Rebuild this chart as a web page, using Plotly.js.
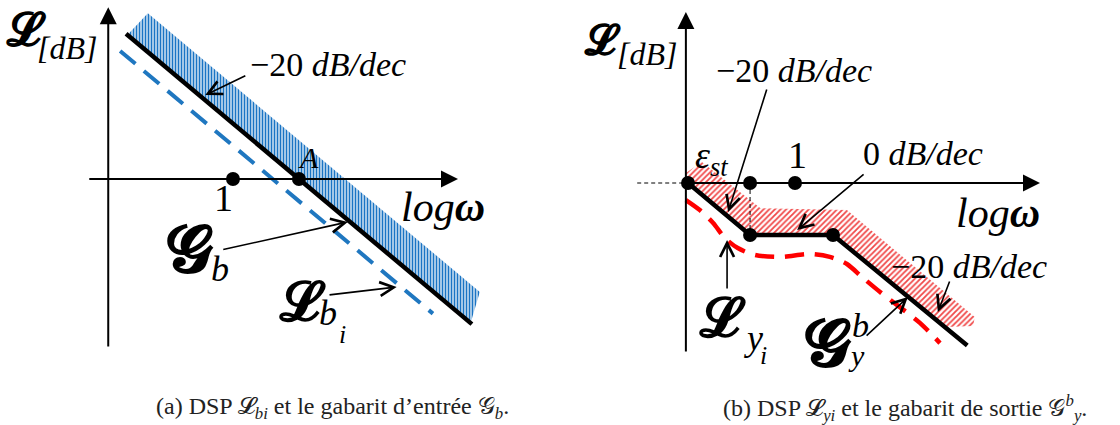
<!DOCTYPE html>
<html>
<head>
<meta charset="utf-8">
<script src="https://cdn.plot.ly/plotly-3.0.1.min.js"></script>
<style>
  body { margin: 0; background: #fff; }
  #fig { width: 1120px; height: 425px; }
</style>
</head>
<body>
<div id="fig"></div>
<script>
// x = log(omega) in decades (0 at omega = 1), y = L in dB

// (a) input template G_b and DSP L_bi
var aAxisH = [-2.2, 3.41];
var aAxisV = [-61, 62];
var aAxisAt = -1.89;
var aGabU = [-1.62, 3.62];
var aGabL = [52.4, -52.4];
var aDspU = [-1.71, 3.03];
var aDspL = [46.2, -48.6];
var aBandU = [-1.6, -1.29, 3.74, 3.6];
var aBandL = [52, 59.8, -40.8, -52];
var aPtU = [0, 1];
var aPtL = [0, 0];

// (b) output template G_y^b and DSP L_yi
var bAxisH = [-2.04, 4.58];
var bAxisV = [-76.6, 77];
var bAxisAt = -2.04;
var bStubU = [-2.95, -2.04];
var bGabU = [-2, -0.84, 0.71, 3.22];
var bGabL = [0, -23.4, -23.4, -73.2];
var bDspU = [-2.04, -1.78, -1.53, -1.31, -1.07, -0.75, -0.28, 0.28, 0.65, 0.97, 1.25, 1.59, 1.96, 2.34, 2.71];
var bDspL = [-7.7, -12.2, -18.0, -24.8, -29.3, -32.4, -33.3, -32.0, -33.3, -36.5, -42.3, -49.1, -55.9, -63.1, -72.1];
var bBandU = [-2.04, -1.74, -0.65, 0.97, 3.36, 3.33, 2.80, 0.71, -0.84, -2.0];
var bBandL = [4.5, 9.5, -11.3, -12.2, -60.4, -64.4, -64.9, -23.4, -23.4, 0];
var bAxisPtU = [-2, -0.84, 0];
var bKneeU = [-0.84, 0.71];
var bKneeL = [-23.4, -23.4];

var SERIF = 'Liberation Serif';

var data = [
  { x: aBandU, y: aBandL, xaxis: 'x', yaxis: 'y', type: 'scatter', mode: 'none',
    fill: 'toself', fillcolor: 'white',
    fillpattern: { shape: '|', fgcolor: '#1a74c4', bgcolor: 'white', size: 3, solidity: 0.6 } },
  { x: aDspU, y: aDspL, xaxis: 'x', yaxis: 'y', type: 'scatter', mode: 'lines',
    line: { color: '#1f77c0', width: 4, dash: '20px,11px' } },
  { x: aGabU, y: aGabL, xaxis: 'x', yaxis: 'y', type: 'scatter', mode: 'lines',
    line: { color: 'black', width: 4.5 } },
  { x: aPtU, y: aPtL, xaxis: 'x', yaxis: 'y', type: 'scatter', mode: 'markers',
    marker: { color: 'black', size: 14 } },

  { x: bBandU, y: bBandL, xaxis: 'x2', yaxis: 'y2', type: 'scatter', mode: 'none',
    fill: 'toself', fillcolor: 'white',
    fillpattern: { shape: '/', fgcolor: '#f04848', bgcolor: 'white', size: 4, solidity: 0.45 } },
  { x: bStubU, y: [0, 0], xaxis: 'x2', yaxis: 'y2', type: 'scatter', mode: 'lines',
    line: { color: 'black', width: 1, dash: '4px,3px' } },
  { x: [bKneeU[0], bKneeU[0]], y: [0, bKneeL[0]], xaxis: 'x2', yaxis: 'y2', type: 'scatter', mode: 'lines',
    line: { color: 'black', width: 1, dash: '4px,3px' } },
  { x: bDspU, y: bDspL, xaxis: 'x2', yaxis: 'y2', type: 'scatter', mode: 'lines',
    line: { color: '#ff0000', width: 4.5, dash: '19px,11px', shape: 'spline', smoothing: 0.8 } },
  { x: bGabU, y: bGabL, xaxis: 'x2', yaxis: 'y2', type: 'scatter', mode: 'lines',
    line: { color: 'black', width: 4.5 } },
  { x: bAxisPtU.concat(bKneeU), y: [0, 0, 0].concat(bKneeL), xaxis: 'x2', yaxis: 'y2',
    type: 'scatter', mode: 'markers', marker: { color: 'black', size: 14 } }
];

function axisArrow(xr, yr, x, y, ax, ay) {
  return { xref: xr, yref: yr, axref: xr, ayref: yr, x: x, y: y, ax: ax, ay: ay,
    text: '', showarrow: true, arrowhead: 2, arrowsize: 1.7, arrowwidth: 2, arrowcolor: 'black' };
}
function pointer(xr, yr, x, y, ax, ay) {
  return { xref: xr, yref: yr, axref: xr, ayref: yr, x: x, y: y, ax: ax, ay: ay,
    text: '', showarrow: true, arrowhead: 5, arrowsize: 1.7, arrowwidth: 1.6, arrowcolor: 'black' };
}
function label(xr, yr, x, y, text, size) {
  return { xref: xr, yref: yr, x: x, y: y, text: text, showarrow: false,
    xanchor: 'center', yanchor: 'middle',
    font: { family: SERIF, size: size, color: 'black' } };
}

var ann = [
  // (a)
  axisArrow('x', 'y', aAxisH[1], 0, aAxisH[0], 0),
  axisArrow('x', 'y', aAxisAt, aAxisV[1], aAxisAt, aAxisV[0]),
  label('x', 'y', -3.14, 53.8, '<b>𝓛</b>', 46),
  label('x', 'y', -2.52, 47.3, '<i>[dB]</i>', 32),
  label('x', 'y', 1.44, 41.5, '−20 <i>dB/dec</i>', 34),
  pointer('x', 'y', -0.42, 30.3, 0.21, 37.5),
  label('x', 'y', 1.14, 7.9, '<i>A</i>', 30),
  label('x', 'y', -0.15, -6.9, '1', 38),
  label('x', 'y', 3.18, -10.1, '<i>log</i><b><i>ω</i></b>', 42),
  label('x', 'y', -0.65, -25.6, '<b>𝓖</b>', 66),
  label('x', 'y', -0.2, -32.4, '<i>b</i>', 36),
  pointer('x', 'y', 1.74, -15.5, -0.17, -25.6),
  label('x', 'y', 1.06, -44.4, '<b>𝓛</b>', 54),
  label('x', 'y', 1.44, -48.4, '<i>b</i>', 36),
  label('x', 'y', 1.66, -56.0, '<i>i</i>', 26),
  pointer('x', 'y', 2.48, -39.0, 1.44, -41.9),

  // (b)
  axisArrow('x2', 'y2', bAxisH[1], 0, bAxisH[0], 0),
  axisArrow('x2', 'y2', bAxisAt, bAxisV[1], bAxisAt, bAxisV[0]),
  label('x2', 'y2', -3.59, 64.4, '<b>𝓛</b>', 42),
  label('x2', 'y2', -2.77, 58.1, '<i>[dB]</i>', 32),
  label('x2', 'y2', -0.02, 50.9, '−20 <i>dB/dec</i>', 34),
  pointer('x2', 'y2', -1.25, -13.1, -0.52, 42.8),
  label('x2', 'y2', -1.57, 11.3, '<i>ε<sub>st</sub></i>', 38),
  label('x2', 'y2', 0.04, 12.6, '1', 38),
  label('x2', 'y2', 2.39, 13.5, '0 <i>dB/dec</i>', 34),
  pointer('x2', 'y2', 0.04, -21.2, 1.31, 4.5),
  label('x2', 'y2', 3.79, -13.5, '<i>log</i><b><i>ω</i></b>', 42),
  label('x2', 'y2', 3.25, -37.4, '−20 <i>dB/dec</i>', 34),
  pointer('x2', 'y2', 2.67, -58.1, 2.90, -43.7),
  label('x2', 'y2', -1.36, -60.8, '<b>𝓛</b>', 54),
  label('x2', 'y2', -0.78, -69.8, '<i>y</i>', 36),
  label('x2', 'y2', -0.58, -77.5, '<i>i</i>', 26),
  pointer('x2', 'y2', -1.27, -25.7, -1.27, -48.2),
  label('x2', 'y2', 0.62, -72.1, '<b>𝓖</b>', 66),
  label('x2', 'y2', 1.23, -64.4, '<i>b</i>', 34),
  label('x2', 'y2', 1.14, -77.5, '<i>y</i>', 30),
  pointer('x2', 'y2', 2.11, -51.4, 1.31, -69.4),

  // captions
  { xref: 'paper', yref: 'paper', x: 0.297, y: 0.04, xanchor: 'center', yanchor: 'middle', showarrow: false,
    text: '(a) DSP 𝓛<sub><i>bi</i></sub> et le gabarit d’entrée 𝒢<sub><i>b</i></sub>.',
    font: { family: SERIF, size: 24, color: '#222' } },
  { xref: 'paper', yref: 'paper', x: 0.8076, y: 0.04, xanchor: 'center', yanchor: 'middle', showarrow: false,
    text: '(b) DSP 𝓛<sub><i>yi</i></sub> et le gabarit de sortie 𝒢<sup><i>b</i></sup><sub><i>y</i></sub>.',
    font: { family: SERIF, size: 24, color: '#222' } }
];

var hidden = { visible: false, fixedrange: true };
var layout = {
  width: 1120, height: 425,
  margin: { l: 0, r: 0, t: 0, b: 0 },
  paper_bgcolor: 'white', plot_bgcolor: 'rgba(0,0,0,0)',
  showlegend: false,
  xaxis: Object.assign({ domain: [0, 0.5], range: [-3.53, 4.955] }, hidden),
  yaxis: Object.assign({ domain: [0, 1], range: [-88.8, 64.6], anchor: 'x' }, hidden),
  xaxis2: Object.assign({ domain: [0.5, 1], range: [-4.393, 6.075] }, hidden),
  yaxis2: Object.assign({ domain: [0, 1], range: [-109.0, 82.43], anchor: 'x2' }, hidden),
  annotations: ann
};

Plotly.newPlot('fig', data, layout, { displayModeBar: false, staticPlot: true });
</script>
</body>
</html>
